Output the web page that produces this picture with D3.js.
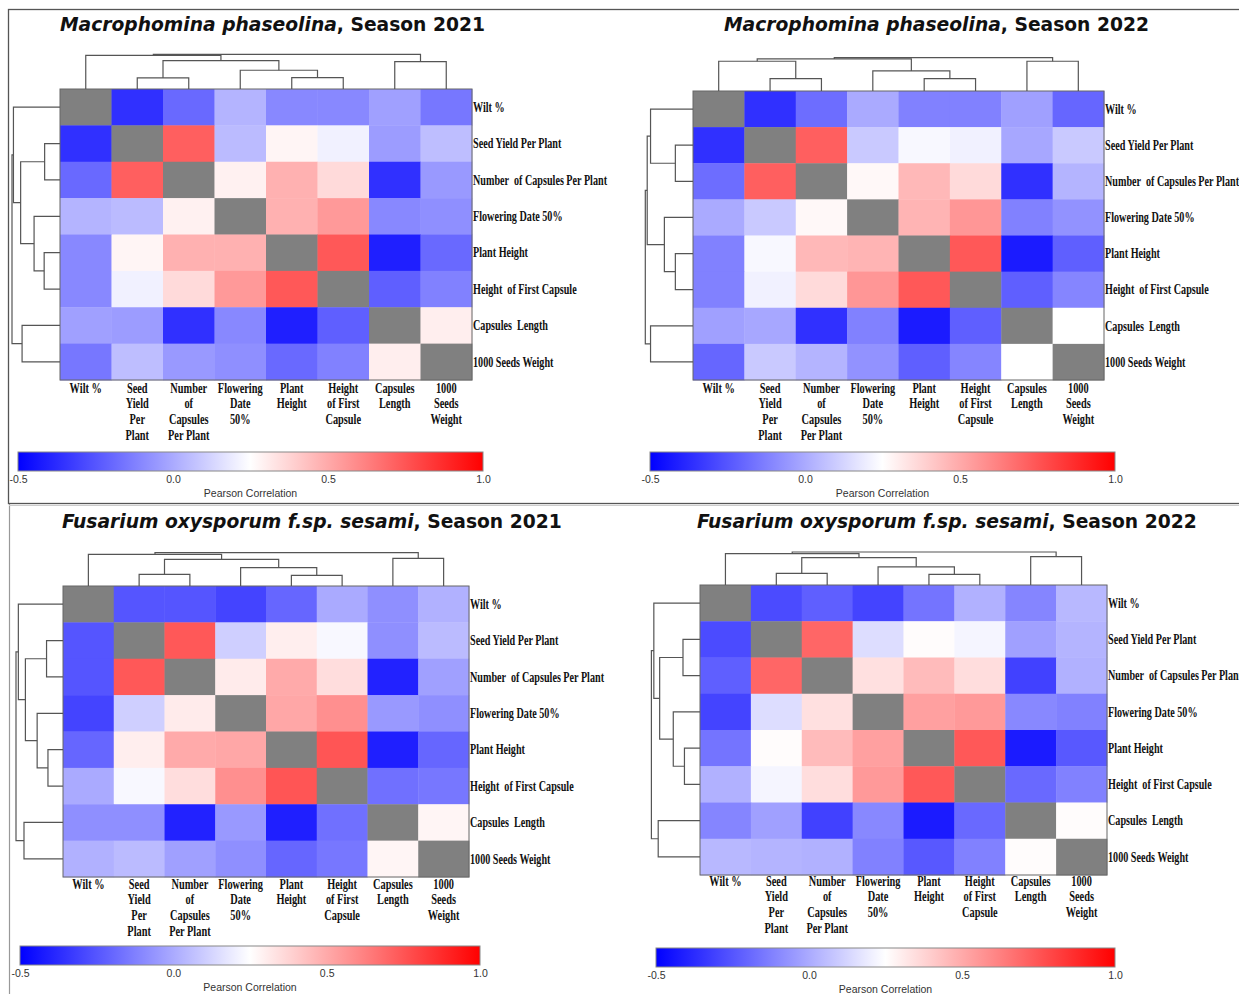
<!DOCTYPE html>
<html>
<head>
<meta charset="utf-8">
<script src="https://cdn.jsdelivr.net/npm/d3@7"></script>
<style>
  body { margin: 0; background: #fff; }
  svg { display: block; }
</style>
</head>
<body>
<svg id="fig" width="1239" height="994"></svg>
<script>
// ---- traits (same order on rows and columns) ----
const traits = ["W", "SY", "NC", "FD", "PH", "HFC", "CL", "SW"];
const rowLabels = [
  "Wilt %", "Seed Yield Per Plant", "Number  of Capsules Per Plant", "Flowering Date 50%",
  "Plant Height", "Height  of First Capsule", "Capsules  Length", "1000 Seeds Weight"
];
const colLabels = [
  ["Wilt %"], ["Seed", "Yield", "Per", "Plant"], ["Number", "of", "Capsules", "Per Plant"],
  ["Flowering", "Date", "50%"], ["Plant", "Height"], ["Height", "of First", "Capsule"],
  ["Capsules", "Length"], ["1000", "Seeds", "Weight"]
];
const colorTicks = [-0.5, 0.0, 0.5, 1.0];

// ---- Pearson correlation matrices ----
const mp2021 = [
  [ 1.00, -0.36, -0.19,  0.03, -0.10, -0.10, -0.03, -0.15],
  [-0.36,  1.00,  0.72,  0.05,  0.28,  0.21, -0.04,  0.06],
  [-0.19,  0.72,  1.00,  0.29,  0.48,  0.36, -0.36, -0.05],
  [ 0.03,  0.05,  0.29,  1.00,  0.48,  0.55, -0.10, -0.08],
  [-0.10,  0.28,  0.48,  0.48,  1.00,  0.74, -0.41, -0.19],
  [-0.10,  0.21,  0.36,  0.55,  0.74,  1.00, -0.22, -0.12],
  [-0.03, -0.04, -0.36, -0.10, -0.41, -0.22,  1.00,  0.30],
  [-0.15,  0.06, -0.05, -0.08, -0.19, -0.12,  0.30,  1.00]
];
const mp2022 = [
  [ 1.00, -0.36, -0.18,  0.00, -0.12, -0.12, -0.03, -0.20],
  [-0.36,  1.00,  0.72,  0.09,  0.23,  0.21, -0.01,  0.09],
  [-0.18,  0.72,  1.00,  0.27,  0.46,  0.36, -0.36,  0.03],
  [ 0.00,  0.09,  0.27,  1.00,  0.47,  0.56, -0.12, -0.07],
  [-0.12,  0.23,  0.46,  0.47,  1.00,  0.74, -0.42, -0.22],
  [-0.12,  0.21,  0.36,  0.56,  0.74,  1.00, -0.22, -0.11],
  [-0.03, -0.01, -0.36, -0.12, -0.42, -0.22,  1.00,  0.25],
  [-0.20,  0.09,  0.03, -0.07, -0.22, -0.11,  0.25,  1.00]
];
const fo2021 = [
  [ 1.00, -0.25, -0.25, -0.30, -0.20,  0.00, -0.08,  0.02],
  [-0.25,  1.00,  0.74,  0.11,  0.30,  0.23, -0.08,  0.05],
  [-0.25,  0.74,  1.00,  0.31,  0.50,  0.35, -0.40, -0.03],
  [-0.30,  0.11,  0.31,  1.00,  0.51,  0.58, -0.05, -0.08],
  [-0.20,  0.30,  0.50,  0.51,  1.00,  0.75, -0.41, -0.20],
  [ 0.00,  0.23,  0.35,  0.58,  0.75,  1.00, -0.17, -0.15],
  [-0.08, -0.08, -0.40, -0.05, -0.41, -0.17,  1.00,  0.28],
  [ 0.02,  0.05, -0.03, -0.08, -0.20, -0.15,  0.28,  1.00]
];
const fo2022 = [
  [ 1.00, -0.28, -0.22, -0.30, -0.16,  0.02, -0.11,  0.04],
  [-0.28,  1.00,  0.70,  0.15,  0.26,  0.22, -0.03,  0.03],
  [-0.22,  0.70,  1.00,  0.34,  0.45,  0.35, -0.31,  0.02],
  [-0.30,  0.15,  0.34,  1.00,  0.53,  0.55, -0.10, -0.12],
  [-0.16,  0.26,  0.45,  0.53,  1.00,  0.74, -0.42, -0.24],
  [ 0.02,  0.22,  0.35,  0.55,  0.74,  1.00, -0.19, -0.12],
  [-0.11, -0.03, -0.31, -0.10, -0.42, -0.19,  1.00,  0.26],
  [ 0.04,  0.03,  0.02, -0.12, -0.24, -0.12,  0.26,  1.00]
];

// ---- hierarchical clustering merges (hclust style: -k = leaf k, +k = merge k), relative height ----
const mp2021Merge = [[-2, -3, 0.32], [-5, -6, 0.33], [-4, 2, 0.54], [1, 3, 0.82], [-7, -8, 0.79], [-1, 4, 0.97], [6, 5, 1.00]];
const mp2022Merge = [[-2, -3, 0.37], [-5, -6, 0.37], [-4, 2, 0.60], [-1, 1, 0.89], [-7, -8, 0.89], [4, 3, 0.96], [6, 5, 1.00]];
const fo2021Merge = [[-2, -3, 0.35], [-5, -6, 0.32], [-4, 2, 0.55], [1, 3, 0.80], [-7, -8, 0.83], [-1, 4, 0.95], [6, 5, 1.00]];
const fo2022Merge = [[-2, -3, 0.35], [-5, -6, 0.32], [-4, 2, 0.55], [1, 3, 0.83], [-7, -8, 0.86], [-1, 4, 0.95], [6, 5, 1.00]];

// ---- panel configuration ----
const panels = [
  { species: "Macrophomina phaseolina", season: ", Season 2021", values: mp2021, merge: mp2021Merge,
    titleX: 60, titleY: 31, hx: [60, 472], hy: [89, 380], topH: 34.7, leftW: 48,
    labY: 392.5, bar: [18, 483, 452, 471], rowLabX: 473 },
  { species: "Macrophomina phaseolina", season: ", Season 2022", values: mp2022, merge: mp2022Merge,
    titleX: 724, titleY: 31, hx: [693, 1104], hy: [91, 380], topH: 33.4, leftW: 47.7,
    labY: 392.5, bar: [650, 1115, 452, 471], rowLabX: 1105 },
  { species: "Fusarium oxysporum f.sp. sesami", season: ", Season 2021", values: fo2021, merge: fo2021Merge,
    titleX: 62, titleY: 528, hx: [63, 469], hy: [586, 877], topH: 33.3, leftW: 47,
    labY: 888.5, bar: [20, 480, 946, 965], rowLabX: 470 },
  { species: "Fusarium oxysporum f.sp. sesami", season: ", Season 2022", values: fo2022, merge: fo2022Merge,
    titleX: 697, titleY: 528, hx: [700, 1107], hy: [585, 875], topH: 33, leftW: 48.6,
    labY: 885.5, bar: [656, 1115, 948, 967], rowLabX: 1108 }
];

const svg = d3.select("#fig");
const color = d3.scaleLinear().domain([-0.5, 0.25, 1.0]).range(["#0000ff", "#ffffff", "#ff0000"]).clamp(true);
const labelFont = "'Liberation Serif', 'Times New Roman', serif";
const sansFont = "'Liberation Sans', Arial, sans-serif";
const squeeze = 0.74;
const rowSqueeze = 0.725;

// frame around the figure
svg.append("rect").attr("x", 8.5).attr("y", 9.5).attr("width", 1240).attr("height", 494)
  .attr("fill", "none").attr("stroke", "#555").attr("stroke-width", 1.3);
svg.append("line").attr("x1", 9.5).attr("x2", 9.5).attr("y1", 504).attr("y2", 994)
  .attr("stroke", "#999").attr("stroke-width", 1.2);
svg.append("line").attr("x1", 9).attr("x2", 1239).attr("y1", 505.5).attr("y2", 505.5)
  .attr("stroke", "#ccc").attr("stroke-width", 1);

// gradient definition shared by all colour bars
const defs = svg.append("defs");
const grad = defs.append("linearGradient").attr("id", "pearsonGrad").attr("x1", "0%").attr("x2", "100%");
d3.range(0, 1.0001, 0.05).forEach(t => {
  grad.append("stop").attr("offset", (t * 100) + "%").attr("stop-color", color(-0.5 + 1.5 * t));
});

function nodePositions(merge, leafPos) {
  const nodes = [];
  const get = k => k < 0 ? { p: leafPos(-k - 1), h: 0 } : nodes[k - 1];
  merge.forEach(([a, b, h]) => {
    const A = get(a), B = get(b);
    nodes.push({ p: (A.p + B.p) / 2, h: h, a: A, b: B });
  });
  return nodes;
}

panels.forEach(P => {
  const g = svg.append("g");
  const n = traits.length;
  const xBand = d3.scaleBand().domain(d3.range(n)).range(P.hx);
  const yBand = d3.scaleBand().domain(d3.range(n)).range(P.hy);
  const xc = i => xBand(i) + xBand.bandwidth() / 2;
  const yc = i => yBand(i) + yBand.bandwidth() / 2;

  // title
  const title = g.append("text").attr("x", P.titleX).attr("y", P.titleY)
    .attr("font-family", "'DejaVu Sans', Verdana, sans-serif").attr("font-weight", 700)
    .attr("font-size", 18.7).attr("fill", "#111");
  title.append("tspan").attr("font-style", "italic").text(P.species);
  title.append("tspan").text(P.season);

  // heatmap cells
  const cells = [];
  P.values.forEach((row, i) => row.forEach((v, j) => cells.push({ i, j, v })));
  g.append("g").selectAll("rect").data(cells).join("rect")
    .attr("x", d => xBand(d.j)).attr("y", d => yBand(d.i))
    .attr("width", xBand.bandwidth() + 0.4).attr("height", yBand.bandwidth() + 0.4)
    .attr("fill", d => d.i === d.j ? "#808080" : color(d.v));
  g.append("rect").attr("x", P.hx[0]).attr("y", P.hy[0])
    .attr("width", P.hx[1] - P.hx[0]).attr("height", P.hy[1] - P.hy[0])
    .attr("fill", "none").attr("stroke", "#666").attr("stroke-width", 1);

  // column dendrogram
  const hTop = d3.scaleLinear().domain([0, 1]).range([P.hy[0], P.hy[0] - P.topH]);
  const topNodes = nodePositions(P.merge, xc);
  g.append("g").selectAll("path").data(topNodes).join("path")
    .attr("d", d => `M${d.a.p},${hTop(d.a.h)}V${hTop(d.h)}H${d.b.p}V${hTop(d.b.h)}`)
    .attr("fill", "none").attr("stroke", "#555").attr("stroke-width", 1.2);

  // row dendrogram
  const hLeft = d3.scaleLinear().domain([0, 1]).range([P.hx[0], P.hx[0] - P.leftW]);
  const leftNodes = nodePositions(P.merge, yc);
  g.append("g").selectAll("path").data(leftNodes).join("path")
    .attr("d", d => `M${hLeft(d.a.h)},${d.a.p}H${hLeft(d.h)}V${d.b.p}H${hLeft(d.b.h)}`)
    .attr("fill", "none").attr("stroke", "#555").attr("stroke-width", 1.2);

  // row labels
  g.append("g").selectAll("g").data(rowLabels).join("g")
    .attr("transform", (d, i) => `translate(${P.rowLabX},${yc(i) + 4.8}) scale(${rowSqueeze},1)`)
    .append("text").attr("font-family", labelFont).attr("font-weight", 700).attr("font-size", 14)
    .attr("fill", "#111").style("white-space", "pre").text(d => d);

  // column labels
  const colG = g.append("g").selectAll("g").data(colLabels).join("g")
    .attr("transform", (d, i) => `translate(${xc(i)},${P.labY}) scale(${squeeze},1)`);
  const colText = colG.append("text").attr("font-family", labelFont).attr("font-weight", 700)
    .attr("font-size", 14).attr("fill", "#111").attr("text-anchor", "middle");
  colText.selectAll("tspan").data(d => d).join("tspan")
    .attr("x", 0).attr("y", (d, k) => k * 16).text(d => d);

  // colour bar
  const [bx0, bx1, by0, by1] = P.bar;
  g.append("rect").attr("x", bx0).attr("y", by0).attr("width", bx1 - bx0).attr("height", by1 - by0)
    .attr("fill", "url(#pearsonGrad)").attr("stroke", "#888").attr("stroke-width", 1);
  const barScale = d3.scaleLinear().domain([-0.5, 1.0]).range([bx0, bx1]);
  const axis = g.append("g").attr("transform", `translate(0,${by1})`)
    .call(d3.axisBottom(barScale).tickValues(colorTicks).tickSize(0).tickPadding(5)
      .tickFormat(d => d.toFixed(1)));
  axis.select(".domain").remove();
  axis.selectAll("text").attr("font-family", sansFont).attr("font-size", 10.5).attr("fill", "#333");
  g.append("text").attr("x", (bx0 + bx1) / 2).attr("y", by1 + 25.5).attr("text-anchor", "middle")
    .attr("font-family", sansFont).attr("font-size", 10.5)
    .attr("fill", "#333").text("Pearson Correlation");
});
</script>
</body>
</html>
